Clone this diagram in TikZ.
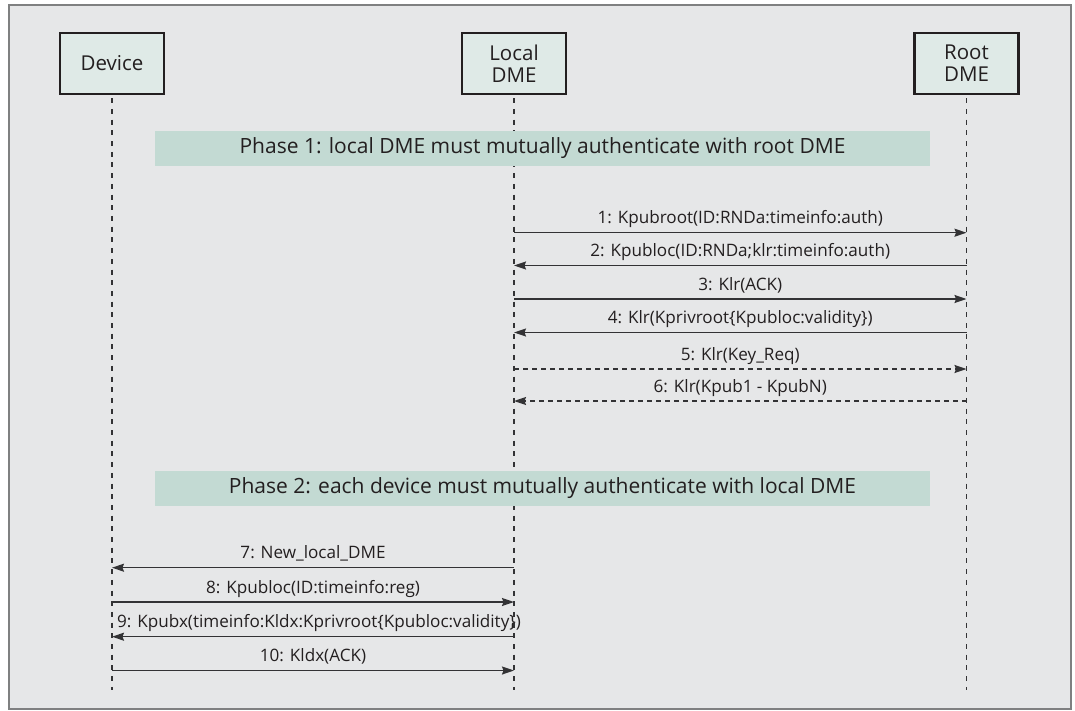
\documentclass[tikz,border=0pt]{standalone}
\usepackage{fontspec}
\setmainfont{Open Sans}
\usetikzlibrary{arrows.meta}
\definecolor{bgc}{HTML}{E6E7E8}
\definecolor{framec}{HTML}{7F8081}
\definecolor{bandc}{HTML}{C3DAD3}
\definecolor{boxc}{HTML}{DFEAE7}
\definecolor{inkc}{HTML}{231F20}
\definecolor{linec}{HTML}{333335}
\tikzset{
  actor/.style={draw=inkc, fill=boxc, line width=2.6pt, minimum width=104pt, minimum height=61pt, align=center, inner sep=0pt, font=\fontsize{20.5}{22}\selectfont, text=inkc},
  lifeline/.style={draw=linec, line width=1.2pt, dash pattern=on 5pt off 5.7pt},
  band/.style={fill=bandc, minimum width=775pt, minimum height=35pt, inner sep=0pt, font=\fontsize{21}{24}\selectfont, text=inkc},
  msg/.style={draw=linec, line width=1.5pt, -{Stealth[length=12pt,width=8pt,inset=1.5pt]}},
  dmsg/.style={msg, dash pattern=on 5pt off 4pt},
  lbl/.style={midway, anchor=base, yshift=9pt, inner sep=0pt, font=\fontsize{17.1}{19}\selectfont, text=inkc}
}
\begin{document}
\begin{tikzpicture}[x=1pt,y=-1pt]
\useasboundingbox (0,0) rectangle (1075,711);
\fill[white] (0,0) rectangle (1075,711);
\draw[draw=framec, fill=bgc, line width=1.2pt] (9,5) rectangle (1071,709);

\node[actor] (dev) at (112,63.5) {Device};
\node[actor] (loc) at (514,63.5) {Local\\DME};
\node[actor] (root) at (966.5,63.5) {Root\\DME};

\coordinate (devE) at (112,690);
\coordinate (locE) at (514,690);
\coordinate (rootE) at (966.5,690);
\draw[lifeline] ([yshift=-3pt]dev.south) -- (devE);
\draw[lifeline] ([yshift=-3pt]loc.south) -- (locE);
\draw[lifeline] ([yshift=-3pt]root.south) -- (rootE);

\node[band] (ph1) at (542.5,148.5) {Phase 1: local DME must mutually authenticate with root DME};
\node[band] (ph2) at (542.5,488) {Phase 2: each device must mutually authenticate with local DME};

% phase 1 messages
\foreach \n/\y in {1/232.7,2/265.5,3/299,4/332.5,5/369,6/401}{
  \coordinate (L\n) at (514,\y);
  \coordinate (R\n) at (966.5,\y);
}
\draw[msg] (L1) -- node[lbl]{1: Kpubroot(ID:RNDa:timeinfo:auth)} (R1);
\draw[msg] (R2) -- node[lbl]{2: Kpubloc(ID:RNDa;klr:timeinfo:auth)} (L2);
\draw[msg] (L3) -- node[lbl]{3: Klr(ACK)} (R3);
\draw[msg] (R4) -- node[lbl]{4: Klr(Kprivroot\{Kpubloc:validity\})} (L4);
\draw[dmsg] (L5) -- node[lbl]{5: Klr(Key\_Req)} (R5);
\draw[dmsg] (R6) -- node[lbl]{6: Klr(Kpub1 - KpubN)} (L6);

% phase 2 messages
\foreach \n/\y in {7/567.7,8/602,9/636.7,10/670.5}{
  \coordinate (D\n) at (112,\y);
  \coordinate (M\n) at (514,\y);
}
\draw[msg] (M7) -- node[lbl]{7: New\_local\_DME} (D7);
\draw[msg] (D8) -- node[lbl]{8: Kpubloc(ID:timeinfo:reg)} (M8);
\draw[msg] (M9) -- node[lbl, xshift=6pt]{9: Kpubx(timeinfo:Kldx:Kprivroot\{Kpubloc:validity\})} (D9);
\draw[msg] (D10) -- node[lbl]{10: Kldx(ACK)} (M10);
\end{tikzpicture}
\end{document}
